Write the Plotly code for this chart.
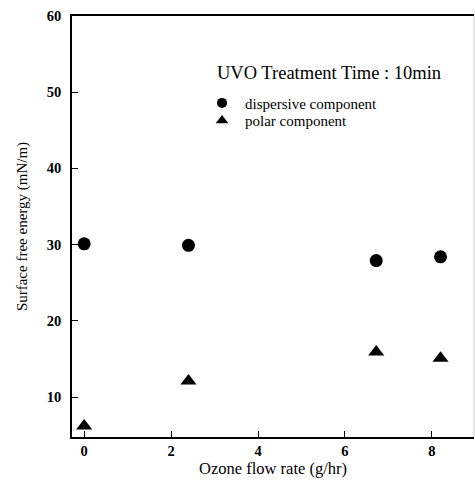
import plotly.graph_objects as go

# Ozone flow rate (g/hr) and surface free energy components (mN/m)
ozone_flow = [0.0, 2.4, 6.72, 8.2]
dispersive = [30.1, 29.9, 27.9, 28.4]
polar = [6.2, 12.1, 15.9, 15.1]

x_ticks = [0, 2, 4, 6, 8]
y_ticks = [10, 20, 30, 40, 50, 60]

SERIF = "Liberation Serif, Times New Roman, serif"

fig = go.Figure()
fig.add_trace(go.Scatter(
    x=ozone_flow, y=dispersive, mode="markers", name="dispersive component",
    marker=dict(symbol="circle", size=13, color="black"), showlegend=False,
))
fig.add_trace(go.Scatter(
    x=ozone_flow, y=polar, mode="markers", name="polar component",
    marker=dict(symbol="triangle-up", size=14, color="black"), showlegend=False,
))
# legend keys drawn with smaller symbols than the data markers,
# each in its own legend box so the rows can sit close together
fig.add_trace(go.Scatter(
    x=[None], y=[None], mode="markers", name="dispersive component",
    marker=dict(symbol="circle", size=10, color="black"), legend="legend",
))
fig.add_trace(go.Scatter(
    x=[None], y=[None], mode="markers", name="polar component",
    marker=dict(symbol="triangle-up", size=11, color="black"), legend="legend2",
))

legend_style = dict(
    x=0.316, xanchor="left", yanchor="middle",
    bgcolor="rgba(0,0,0,0)",
    font=dict(family=SERIF, size=15),
    itemwidth=36, tracegroupgap=0,
)

fig.update_layout(
    width=475, height=485,
    margin=dict(l=72, r=1, t=16, b=48),
    paper_bgcolor="white", plot_bgcolor="white",
    font=dict(family=SERIF, color="black"),
    showlegend=True,
    legend=dict(y=0.793, **legend_style),
    legend2=dict(y=0.751, **legend_style),
    annotations=[dict(
        text="UVO Treatment Time : 10min", xref="paper", yref="paper",
        x=0.355, y=0.865, xanchor="left", yanchor="middle", showarrow=False,
        font=dict(family=SERIF, size=18.5),
    )],
    xaxis=dict(
        range=[-0.28, 8.97], tickvals=x_ticks, ticks="inside", ticklen=6,
        tickwidth=1.2, tickcolor="black", showline=True, linecolor="black",
        linewidth=1.5, mirror=True, showgrid=False, zeroline=False,
        ticklabelstandoff=0,
        tickfont=dict(family=SERIF, size=14.5, weight="bold"),
        title=dict(text="Ozone flow rate (g/hr)", font=dict(family=SERIF, size=16.5),
                   standoff=0),
    ),
    yaxis=dict(
        range=[4.75, 60], tickvals=y_ticks, ticks="inside", ticklen=6,
        tickwidth=1.2, tickcolor="black", showline=True, linecolor="black",
        linewidth=1.5, showgrid=False, zeroline=False,
        ticklabelstandoff=6,
        tickfont=dict(family=SERIF, size=14.5, weight="bold"),
        title=dict(text="Surface free energy (mN/m)", font=dict(family=SERIF, size=15),
                   standoff=16),
    ),
    shapes=[dict(type="line", xref="paper", yref="paper", x0=1, x1=1, y0=0, y1=1,
                 line=dict(color="#d0d0d0", width=1))],
)

fig.write_html("out.html")
